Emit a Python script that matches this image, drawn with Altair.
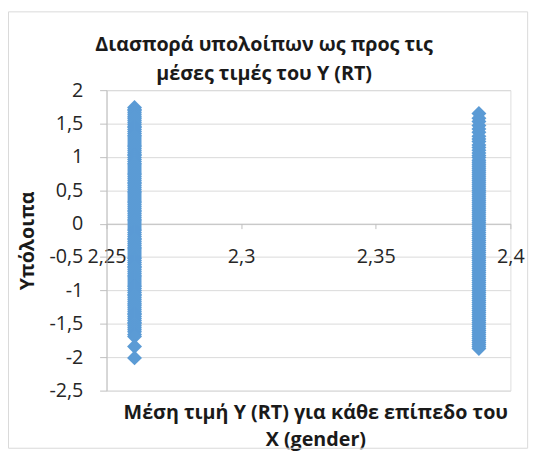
import altair as alt
import pandas as pd

# Mean of Y (RT) for each level of X (gender)
group_means = [2.2604, 2.3883]

# Residuals for each gender group
resid_group1 = [1.74, 1.71, 1.69, 1.66, 1.63, 1.60, 1.58, 1.55, 1.52, 1.49, 1.46, 1.44,
                1.41, 1.38, 1.35, 1.32, 1.30, 1.27, 1.24, 1.21, 1.18, 1.16, 1.13, 1.10,
                1.07, 1.04, 1.02, 0.99, 0.96, 0.93, 0.90, 0.88, 0.85, 0.82, 0.79, 0.76,
                0.74, 0.71, 0.68, 0.65, 0.62, 0.60, 0.57, 0.54, 0.51, 0.48, 0.46, 0.43,
                0.40, 0.37, 0.34, 0.32, 0.29, 0.26, 0.23, 0.20, 0.18, 0.15, 0.12, 0.09,
                0.06, 0.04, 0.01, -0.02, -0.05, -0.08, -0.10, -0.13, -0.16, -0.19, -0.22,
                -0.24, -0.27, -0.30, -0.33, -0.36, -0.38, -0.41, -0.44, -0.47, -0.50,
                -0.52, -0.55, -0.58, -0.61, -0.64, -0.66, -0.69, -0.72, -0.75, -0.78,
                -0.80, -0.83, -0.86, -0.89, -0.92, -0.94, -0.97, -1.00, -1.03, -1.06,
                -1.08, -1.11, -1.14, -1.17, -1.20, -1.22, -1.25, -1.28, -1.31, -1.34,
                -1.36, -1.39, -1.42, -1.45, -1.48, -1.50, -1.53, -1.56, -1.59, -1.62,
                -1.66, -1.69, -1.84, -2.01]

resid_group2 = [1.65, 1.58, 1.53, 1.47, 1.42, 1.37, 1.31, 1.27, 1.23, 1.18, 1.14, 1.10,
                1.06, 1.02, 0.99, 0.95, 0.92, 0.89, 0.86, 0.83, 0.80, 0.77, 0.74, 0.71,
                0.68, 0.65, 0.62, 0.59, 0.56, 0.53, 0.50, 0.47, 0.44, 0.41, 0.38, 0.35,
                0.32, 0.29, 0.26, 0.23, 0.20, 0.17, 0.14, 0.11, 0.08, 0.05, 0.02, -0.01,
                -0.04, -0.07, -0.10, -0.13, -0.16, -0.19, -0.22, -0.25, -0.28, -0.31,
                -0.34, -0.37, -0.40, -0.43, -0.46, -0.49, -0.52, -0.55, -0.58, -0.61,
                -0.64, -0.67, -0.70, -0.73, -0.76, -0.79, -0.82, -0.85, -0.88, -0.91,
                -0.94, -0.97, -1.00, -1.03, -1.06, -1.09, -1.12, -1.15, -1.18, -1.21,
                -1.24, -1.27, -1.30, -1.33, -1.36, -1.39, -1.42, -1.45, -1.48, -1.51,
                -1.54, -1.57, -1.60, -1.63, -1.66, -1.69, -1.72, -1.75, -1.78, -1.81,
                -1.84, -1.87]

x_ticks = [2.25, 2.3, 2.35, 2.4]
y_ticks = [-2.5, -2.0, -1.5, -1.0, -0.5, 0.0, 0.5, 1.0, 1.5, 2.0]

rows = []
for m, res in zip(group_means, [resid_group1, resid_group2]):
    for r in res:
        rows.append({"mean": m, "resid": r})
df = pd.DataFrame(rows)

FONT = "Open Sans"
W, H = 410, 305
y_dom = [-2.5, 2.0]
zero_px = (y_dom[1] - 0) / (y_dom[1] - y_dom[0]) * H

comma_expr = "replace(replace(format(datum.value, '.2~f'), '.', ','), '\u2212', '-')"

points = alt.Chart(df).mark_point(
    shape="diamond", filled=True, size=230, color="#5B9BD5", opacity=1
).encode(
    x=alt.X("mean:Q",
            scale=alt.Scale(domain=[2.25, 2.4], nice=False, zero=False),
            axis=alt.Axis(values=x_ticks, labelExpr=comma_expr, grid=False,
                          offset=-(H - zero_px), domainColor="#bfbfbf",
                          tickColor="#bfbfbf", tickSize=5, labelPadding=18,
                          labelFontSize=20, labelFont=FONT, labelColor="#262626",
                          title=["Μέση τιμή Y (RT) για κάθε επίπεδο του", "X (gender)"],
                          titleFont=FONT, titleFontSize=20, titleFontWeight="bold",
                          titleColor="#1a1a1a", titleLineHeight=27,
                          titleBaseline="top", titleY=182, titleX=212,
                          labelOverlap=False, labelFlush=False)),
    y=alt.Y("resid:Q",
            scale=alt.Scale(domain=y_dom, nice=False, zero=False),
            axis=alt.Axis(values=y_ticks, labelExpr=comma_expr, grid=True,
                          gridColor="#d9d9d9", domainColor="#bfbfbf",
                          tickColor="#bfbfbf", tickSize=7, labelPadding=17,
                          labelFontSize=20, labelFont=FONT, labelColor="#262626",
                          title="Υπόλοιπα", titleFont=FONT, titleFontSize=20,
                          titleFontWeight="bold", titleColor="#1a1a1a",
                          titleAngle=270, titleX=-80, titleY=H / 2,
                          titleAlign="center", titleBaseline="middle",
                          labelOverlap=False, labelFlush=False)),
)

frame = alt.Chart(pd.DataFrame({"a": [0]})).mark_rect(
    fillOpacity=0, stroke="#d9d9d9", strokeWidth=1
).encode(
    x=alt.value(-99.5), x2=alt.value(427.5), y=alt.value(-79.5), y2=alt.value(363.5)
)

chart = alt.layer(frame, points).properties(
    width=W, height=H,
    title=alt.TitleParams(
        ["Διασπορά υπολοίπων ως προς τις", "μέσες τιμές του Y (RT)"],
        font=FONT, fontSize=20, fontWeight="bold", color="#1a1a1a",
        anchor="middle", dx=-45, dy=78, offset=4, lineHeight=30,
    ),
    autosize=alt.AutoSizeParams(type="none"),
    padding={"left": 100, "top": 80, "right": 26, "bottom": 65},
).configure_view(stroke=None).configure(background="white")

chart.save("out.html", embed_options={"renderer": "svg", "actions": False})
